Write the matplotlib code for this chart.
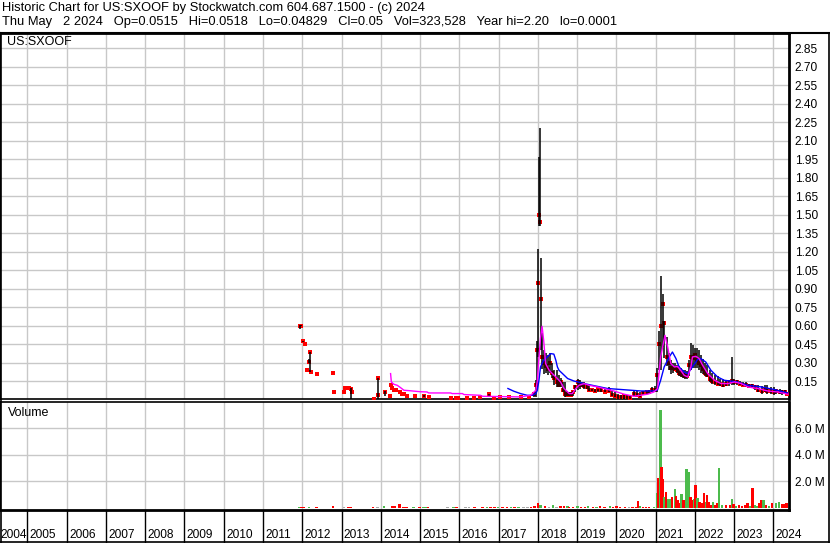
import matplotlib
matplotlib.use('Agg')
import matplotlib.pyplot as plt
from matplotlib.lines import Line2D

plt.rcParams['font.family'] = ['Liberation Sans', 'DejaVu Sans']

# ---------------- data (decimal years) ----------------
bar_year = [2011.93, 2011.97, 2012.02, 2012.07, 2012.12, 2012.16, 2012.21, 2012.23, 2012.38, 2012.79,
            2012.81, 2013.07, 2013.09, 2013.18, 2013.23, 2013.27, 2013.83, 2013.92, 2013.94, 2014.11,
            2014.23, 2014.27, 2014.29, 2014.33, 2014.38, 2014.50, 2014.55, 2014.59, 2014.66, 2014.86,
            2015.09, 2015.22, 2015.78, 2015.91, 2015.98, 2016.20, 2016.37, 2016.54, 2016.76, 2016.88,
            2017.05, 2017.26, 2017.56, 2017.77, 2017.90, 2017.95, 2017.98, 2018.01, 2018.035, 2018.06,
            2018.08, 2018.11, 2018.15, 2018.20, 2018.25, 2018.30, 2018.36, 2018.42, 2018.48, 2018.53,
            2018.58, 2018.64, 2018.69, 2018.74, 2018.79, 2018.84, 2018.89, 2018.95, 2019.02, 2019.07,
            2019.12, 2019.18, 2019.25, 2019.30, 2019.38, 2019.45, 2019.53, 2019.60, 2019.71, 2019.81,
            2019.88, 2019.96, 2020.04, 2020.11, 2020.19, 2020.27, 2020.36, 2020.45, 2020.52, 2020.61,
            2020.69, 2020.77, 2020.84, 2020.90, 2020.98, 2021.03, 2021.08, 2021.14, 2021.18, 2021.21,
            2021.28, 2021.34, 2021.39, 2021.44, 2021.49, 2021.54, 2021.59, 2021.64, 2021.69, 2021.74,
            2021.80, 2021.85, 2021.90, 2021.95, 2022.00, 2022.05, 2022.10, 2022.15, 2022.20, 2022.25,
            2022.32, 2022.38, 2022.45, 2022.51, 2022.58, 2022.64, 2022.72, 2022.79, 2022.88, 2022.96,
            2023.00, 2023.07, 2023.15, 2023.23, 2023.30, 2023.38, 2023.46, 2023.53, 2023.61, 2023.70,
            2023.78, 2023.85, 2023.93, 2024.01, 2024.08, 2024.16, 2024.23, 2024.31, 2024.34]
bar_high = [0.61, 0.61, 0.48, 0.45, 0.24, 0.33, 0.39, 0.225, 0.21, 0.217,
            0.063, 0.063, 0.096, 0.096, 0.093, 0.063, 0.002, 0.18, 0.036, 0.07,
            0.028, 0.117, 0.099, 0.077, 0.077, 0.063, 0.05, 0.045, 0.028, 0.031,
            0.04, 0.022, 0.017, 0.015, 0.015, 0.017, 0.012, 0.022, 0.05, 0.017,
            0.022, 0.022, 0.022, 0.022, 0.06, 0.16, 0.48, 1.22, 1.97, 2.20,
            1.15, 0.54, 0.40, 0.38, 0.36, 0.38, 0.30, 0.24, 0.24, 0.20,
            0.18, 0.14, 0.14, 0.07, 0.06, 0.06, 0.07, 0.12, 0.17, 0.16,
            0.14, 0.14, 0.13, 0.11, 0.09, 0.09, 0.09, 0.10, 0.09, 0.10,
            0.07, 0.06, 0.05, 0.04, 0.04, 0.035, 0.03, 0.07, 0.07, 0.06,
            0.07, 0.07, 0.08, 0.10, 0.11, 0.26, 0.56, 1.00, 0.86, 0.64,
            0.51, 0.38, 0.32, 0.30, 0.30, 0.28, 0.27, 0.26, 0.24, 0.24,
            0.23, 0.32, 0.46, 0.44, 0.42, 0.42, 0.40, 0.36, 0.33, 0.30,
            0.28, 0.24, 0.22, 0.20, 0.19, 0.17, 0.17, 0.16, 0.16, 0.35,
            0.17, 0.16, 0.15, 0.14, 0.14, 0.13, 0.13, 0.12, 0.12, 0.11,
            0.12, 0.12, 0.10, 0.10, 0.09, 0.09, 0.08, 0.08, 0.0518]
bar_low = [0.57, 0.60, 0.47, 0.45, 0.24, 0.30, 0.225, 0.225, 0.21, 0.217,
           0.063, 0.063, 0.096, 0.096, 0.0, 0.063, 0.0001, 0.01, 0.036, 0.03,
           0.028, 0.117, 0.099, 0.077, 0.077, 0.063, 0.05, 0.045, 0.028, 0.031,
           0.025, 0.022, 0.017, 0.015, 0.015, 0.017, 0.012, 0.022, 0.02, 0.017,
           0.022, 0.022, 0.022, 0.022, 0.02, 0.02, 0.08, 0.35, 1.41, 1.41,
           0.40, 0.25, 0.21, 0.22, 0.20, 0.22, 0.18, 0.12, 0.10, 0.10,
           0.10, 0.06, 0.02, 0.03, 0.03, 0.03, 0.03, 0.06, 0.08, 0.09,
           0.10, 0.09, 0.09, 0.07, 0.07, 0.06, 0.06, 0.06, 0.06, 0.06,
           0.03, 0.02, 0.01, 0.01, 0.01, 0.01, 0.01, 0.03, 0.03, 0.02,
           0.04, 0.05, 0.05, 0.06, 0.06, 0.06, 0.24, 0.24, 0.43, 0.34,
           0.27, 0.24, 0.21, 0.22, 0.24, 0.22, 0.19, 0.185, 0.18, 0.17,
           0.17, 0.19, 0.24, 0.26, 0.26, 0.26, 0.24, 0.22, 0.21, 0.19,
           0.185, 0.14, 0.13, 0.12, 0.12, 0.11, 0.10, 0.11, 0.11, 0.12,
           0.12, 0.12, 0.12, 0.11, 0.10, 0.10, 0.10, 0.08, 0.06, 0.05,
           0.06, 0.05, 0.05, 0.04, 0.05, 0.05, 0.04, 0.05, 0.0483]
bar_close = [0.60, 0.60, 0.476, 0.45, 0.24, 0.31, 0.385, 0.225, 0.21, 0.217,
             0.063, 0.063, 0.096, 0.096, 0.087, 0.063, 0.002, 0.18, 0.036, 0.06,
             0.028, 0.117, 0.099, 0.077, 0.077, 0.063, 0.05, 0.045, 0.028, 0.031,
             0.028, 0.022, 0.017, 0.015, 0.015, 0.017, 0.012, 0.022, 0.045, 0.017,
             0.022, 0.022, 0.022, 0.022, 0.05, 0.12, 0.40, 0.95, 1.50, 1.44,
             0.82, 0.35, 0.30, 0.27, 0.25, 0.30, 0.22, 0.18, 0.14, 0.12,
             0.14, 0.08, 0.05, 0.04, 0.05, 0.035, 0.06, 0.10, 0.144, 0.12,
             0.12, 0.11, 0.10, 0.08, 0.077, 0.07, 0.085, 0.075, 0.065, 0.07,
             0.04, 0.03, 0.02, 0.02, 0.03, 0.02, 0.015, 0.05, 0.04, 0.03,
             0.055, 0.06, 0.065, 0.08, 0.08, 0.20, 0.45, 0.60, 0.78, 0.62,
             0.35, 0.30, 0.26, 0.26, 0.25, 0.24, 0.22, 0.21, 0.20, 0.19,
             0.19, 0.28, 0.35, 0.34, 0.36, 0.32, 0.30, 0.28, 0.25, 0.22,
             0.20, 0.17, 0.15, 0.14, 0.13, 0.13, 0.12, 0.13, 0.14, 0.15,
             0.14, 0.14, 0.13, 0.12, 0.12, 0.11, 0.11, 0.10, 0.08, 0.07,
             0.08, 0.07, 0.07, 0.06, 0.07, 0.06, 0.06, 0.06, 0.05]

ma_fast_year = [2014.25, 2014.27, 2014.33, 2014.42, 2014.50, 2014.59, 2014.71, 2015.01, 2015.18, 2015.22,
                2015.78, 2015.82, 2016.08, 2016.12, 2016.54, 2016.59, 2017.56, 2017.82, 2017.95, 2017.99,
                2018.02, 2018.07, 2018.11, 2018.15, 2018.20, 2018.29, 2018.37, 2018.50, 2018.58, 2018.67,
                2018.80, 2018.88, 2018.97, 2019.05, 2019.18, 2019.31, 2019.52, 2019.94, 2020.20, 2020.45,
                2020.80, 2020.96, 2021.05, 2021.13, 2021.24, 2021.31, 2021.39, 2021.48, 2021.56, 2021.64,
                2021.73, 2021.82, 2021.90, 2021.94, 2022.03, 2022.11, 2022.20, 2022.33, 2022.50, 2022.67,
                2022.84, 2023.01, 2023.18, 2023.35, 2023.60, 2023.86, 2024.11, 2024.37]
ma_fast_val = [0.212, 0.144, 0.126, 0.117, 0.099, 0.077, 0.074, 0.065, 0.063, 0.055,
               0.055, 0.050, 0.050, 0.042, 0.036, 0.028, 0.023, 0.036, 0.077, 0.158,
               0.30, 0.50, 0.595, 0.482, 0.293, 0.239, 0.212, 0.172, 0.144, 0.091,
               0.050, 0.050, 0.091, 0.117, 0.131, 0.117, 0.104, 0.071, 0.045, 0.028,
               0.045, 0.063, 0.091, 0.347, 0.522, 0.428, 0.293, 0.266, 0.27, 0.239,
               0.198, 0.185, 0.266, 0.347, 0.352, 0.334, 0.279, 0.212, 0.158, 0.131,
               0.131, 0.144, 0.131, 0.104, 0.091, 0.071, 0.063, 0.045]

ma_slow_year = [2017.24, 2017.39, 2017.56, 2017.73, 2017.86, 2017.95, 2017.99, 2018.03, 2018.07, 2018.15,
                2018.33, 2018.41, 2018.46, 2018.50, 2018.54, 2018.63, 2018.76, 2018.92, 2019.18, 2019.78,
                2020.63, 2020.97, 2021.05, 2021.13, 2021.22, 2021.35, 2021.43, 2021.52, 2021.60, 2021.73,
                2021.82, 2021.94, 2022.07, 2022.15, 2022.28, 2022.41, 2022.58, 2022.75, 2023.09, 2023.35,
                2023.69, 2024.02, 2024.37]
ma_slow_val = [0.091, 0.069, 0.050, 0.036, 0.036, 0.050, 0.077, 0.158, 0.266, 0.32,
               0.374, 0.37, 0.32, 0.266, 0.239, 0.212, 0.172, 0.152, 0.131, 0.091,
               0.071, 0.071, 0.080, 0.158, 0.266, 0.347, 0.387, 0.334, 0.266, 0.225,
               0.212, 0.266, 0.326, 0.334, 0.306, 0.239, 0.185, 0.158, 0.144, 0.117,
               0.104, 0.083, 0.055]

vol_year = [2011.91, 2011.98, 2012.05, 2012.18, 2012.36, 2012.78, 2013.06, 2013.18, 2013.25, 2013.80,
            2013.92, 2014.09, 2014.30, 2014.36, 2014.48, 2014.58, 2014.66, 2014.83, 2014.99, 2015.09,
            2015.15, 2015.20, 2015.70, 2015.85, 2015.93, 2016.16, 2016.24, 2016.39, 2016.59, 2016.70,
            2016.80, 2016.90, 2016.98, 2017.10, 2017.21, 2017.31, 2017.41, 2017.51, 2017.64, 2017.74,
            2017.83, 2017.92, 2018.01, 2018.07, 2018.18, 2018.28, 2018.38, 2018.48, 2018.58, 2018.66,
            2018.76, 2018.80, 2018.90, 2019.01, 2019.10, 2019.20, 2019.28, 2019.40, 2019.50, 2019.58,
            2019.70, 2019.84, 2019.92, 2020.01, 2020.10, 2020.22, 2020.32, 2020.41, 2020.50, 2020.56,
            2020.60, 2020.68, 2020.75, 2020.84, 2020.96, 2021.05, 2021.08, 2021.13, 2021.15, 2021.19,
            2021.22, 2021.26, 2021.31, 2021.36, 2021.42, 2021.49, 2021.52, 2021.56, 2021.61, 2021.66,
            2021.71, 2021.77, 2021.79, 2021.83, 2021.86, 2021.89, 2021.95, 2021.98, 2022.02, 2022.07,
            2022.12, 2022.17, 2022.23, 2022.28, 2022.31, 2022.35, 2022.41, 2022.47, 2022.52, 2022.56,
            2022.61, 2022.70, 2022.79, 2022.89, 2022.95, 2022.99, 2023.05, 2023.13, 2023.21, 2023.28,
            2023.34, 2023.41, 2023.47, 2023.53, 2023.58, 2023.64, 2023.69, 2023.75, 2023.81, 2023.89,
            2023.97, 2024.07, 2024.14, 2024.23, 2024.29, 2024.34]
vol_m = [0.10, 0.10, 0.10, 0.08, 0.08, 0.15, 0.06, 0.08, 0.08, 0.08,
         0.06, 0.15, 0.15, 0.15, 0.30, 0.10, 0.10, 0.08, 0.08, 0.08,
         0.08, 0.08, 0.06, 0.08, 0.08, 0.06, 0.06, 0.08, 0.08, 0.08,
         0.08, 0.08, 0.08, 0.08, 0.08, 0.08, 0.08, 0.08, 0.06, 0.06,
         0.10, 0.15, 0.38, 0.25, 0.15, 0.06, 0.20, 0.06, 0.15, 0.12,
         0.15, 0.08, 0.08, 0.15, 0.08, 0.08, 0.15, 0.08, 0.08, 0.12,
         0.08, 0.15, 0.08, 0.12, 0.08, 0.08, 0.08, 0.08, 0.08, 0.53,
         0.15, 0.08, 0.08, 0.08, 0.10, 1.10, 2.24, 7.40, 3.10, 2.17,
         0.85, 1.23, 0.68, 0.65, 0.80, 1.44, 0.90, 0.60, 0.40, 1.03,
         0.60, 1.56, 2.95, 1.86, 2.75, 0.86, 0.60, 0.68, 1.74, 0.73,
         0.48, 0.35, 1.10, 0.48, 0.98, 0.48, 0.22, 0.48, 0.22, 0.35,
         3.00, 0.22, 0.22, 0.22, 0.68, 0.30, 0.15, 0.20, 0.15, 0.22,
         0.35, 0.15, 1.50, 0.22, 0.15, 0.35, 0.60, 0.60, 0.22, 0.15,
         0.35, 0.35, 0.45, 0.30, 0.30, 0.35]
vol_dir = ['u', 'd', 'd', 'u', 'd', 'd', 'n', 'd', 'd', 'd',
           'n', 'u', 'd', 'd', 'd', 'd', 'd', 'u', 'd', 'u',
           'u', 'd', 'n', 'u', 'd', 'n', 'n', 'd', 'd', 'u',
           'd', 'd', 'u', 'd', 'd', 'u', 'd', 'u', 'n', 'n',
           'd', 'd', 'd', 'u', 'd', 'n', 'u', 'n', 'd', 'd',
           'u', 'd', 'd', 'u', 'd', 'd', 'u', 'd', 'u', 'd',
           'd', 'u', 'd', 'd', 'd', 'd', 'n', 'd', 'd', 'd',
           'u', 'd', 'd', 'd', 'u', 'u', 'd', 'u', 'd', 'd',
           'u', 'd', 'u', 'u', 'd', 'u', 'd', 'd', 'd', 'u',
           'd', 'd', 'u', 'u', 'u', 'd', 'd', 'u', 'd', 'u',
           'd', 'd', 'd', 'u', 'd', 'd', 'd', 'u', 'd', 'd',
           'u', 'u', 'd', 'd', 'u', 'd', 'u', 'd', 'd', 'd',
           'd', 'u', 'd', 'u', 'u', 'd', 'd', 'u', 'd', 'u',
           'd', 'u', 'u', 'd', 'd', 'd']

price_ticks = [0.15, 0.30, 0.45, 0.60, 0.75, 0.90, 1.05, 1.20, 1.35, 1.50,
               1.65, 1.80, 1.95, 2.10, 2.25, 2.40, 2.55, 2.70, 2.85]
vol_ticks = [2.0, 4.0, 6.0]
year_labels = list(range(2004, 2025))

header1 = "Historic Chart for US:SXOOF by Stockwatch.com 604.687.1500 - (c) 2024"
header2 = ("Thu May   2 2024   Op=0.0515   Hi=0.0518   Lo=0.04829   Cl=0.05   "
           "Vol=323,528   Year hi=2.20   lo=0.0001")

# ---------------- layout ----------------
W, H = 830, 543
fig = plt.figure(figsize=(W / 100, H / 100), dpi=100)
fig.patch.set_facecolor('white')

def rect(x0, y0, x1, y1):
    return [x0 / W, 1 - y1 / H, (x1 - x0) / W, (y1 - y0) / H]

XMIN, XMAX = 2004.30, 2024.40
GRID = '#c8c8c8'
FS = 8.6

# price panel
ax_p = fig.add_axes(rect(0, 33, 789, 399))
ax_p.set_xlim(XMIN, XMAX)
ax_p.set_ylim(0.006, 2.974)
ax_p.set_xticks(list(range(2005, 2025)))
ax_p.set_yticks(price_ticks)
ax_p.set_yticklabels(['%.2f' % t for t in price_ticks])
ax_p.tick_params(axis='x', length=0, labelbottom=False)
ax_p.yaxis.tick_right()
ax_p.tick_params(axis='y', length=0, pad=4, labelsize=FS)
ax_p.grid(True, color=GRID, lw=1)
ax_p.set_axisbelow(True)

ax_p.plot(bar_year, bar_close, ls='none', marker='s', ms=2.2, mew=0, color='#ff0000', zorder=3)
ax_p.vlines(bar_year, bar_low, bar_high, color='black', lw=1.1, zorder=4)
ax_p.plot(ma_slow_year, ma_slow_val, color='#0000ff', lw=1, zorder=5)
ax_p.plot(ma_fast_year, ma_fast_val, color='#ff00ff', lw=1, zorder=5)
ax_p.text(0.009, 0.975, 'US:SXOOF', transform=ax_p.transAxes, fontsize=FS + 0.4,
          va='center', ha='left')

for s in ax_p.spines.values():
    s.set_color('black')
ax_p.spines['top'].set_linewidth(2)
ax_p.spines['right'].set_linewidth(2)
ax_p.spines['bottom'].set_linewidth(1.2)
ax_p.spines['left'].set_linewidth(1.5)

# volume panel
ax_v = fig.add_axes(rect(0, 402, 789, 509.5))
ax_v.set_xlim(XMIN, XMAX)
ax_v.set_ylim(-0.12, 8.0)
ax_v.set_xticks(list(range(2005, 2025)))
ax_v.set_yticks(vol_ticks)
ax_v.set_yticklabels(['%.1f M' % t for t in vol_ticks])
ax_v.tick_params(axis='x', length=0, labelbottom=False)
ax_v.yaxis.tick_right()
ax_v.tick_params(axis='y', length=0, pad=4, labelsize=FS)
ax_v.grid(True, color=GRID, lw=1)
ax_v.set_axisbelow(True)
colmap = {'u': '#4cbb4c', 'd': '#ff0000', 'n': '#a8a8a8'}
ax_v.bar(vol_year, vol_m, width=0.06, color=[colmap[d] for d in vol_dir],
         edgecolor='none', zorder=3)
ax_v.text(0.010, 0.9, 'Volume', transform=ax_v.transAxes, fontsize=FS + 0.4,
          va='center', ha='left')
for s in ax_v.spines.values():
    s.set_color('black')
ax_v.spines['top'].set_linewidth(1.2)
ax_v.spines['right'].set_linewidth(2)
ax_v.spines['bottom'].set_linewidth(2)
ax_v.spines['left'].set_linewidth(1.5)

# year strip
ax_y = fig.add_axes(rect(0, 509.5, 789, 543))
ax_y.set_xlim(XMIN, XMAX)
ax_y.set_ylim(0, 1)
ax_y.axis('off')
ax_y.vlines(year_labels, 0, 1, color='black', lw=1)
for yr in year_labels:
    xpos = max(yr + 0.06, XMIN + 0.005)
    ax_y.text(xpos, 0.25, str(yr), fontsize=FS, va='center', ha='left', clip_on=False)

# header
fig.text(1.5 / W, 1 - 8.5 / H, header1, fontsize=9.3, va='center', ha='left')
fig.text(1.5 / W, 1 - 22.5 / H, header2, fontsize=9.3, va='center', ha='left')

# outer frame
fig.add_artist(Line2D([0, 829 / W], [1 - 32.5 / H, 1 - 32.5 / H], color='black', lw=1.5,
                      transform=fig.transFigure))
fig.add_artist(Line2D([828.5 / W, 828.5 / W], [1 - 32.5 / H, 0], color='black', lw=1.2,
                      transform=fig.transFigure))
fig.add_artist(Line2D([0, 829 / W], [0.6 / H, 0.6 / H], color='black', lw=1.2,
                      transform=fig.transFigure))
fig.add_artist(Line2D([0.6 / W, 0.6 / W], [1 - 32.5 / H, 0], color='black', lw=1.2,
                      transform=fig.transFigure))

fig.savefig('out.png', dpi=100, facecolor='white')
